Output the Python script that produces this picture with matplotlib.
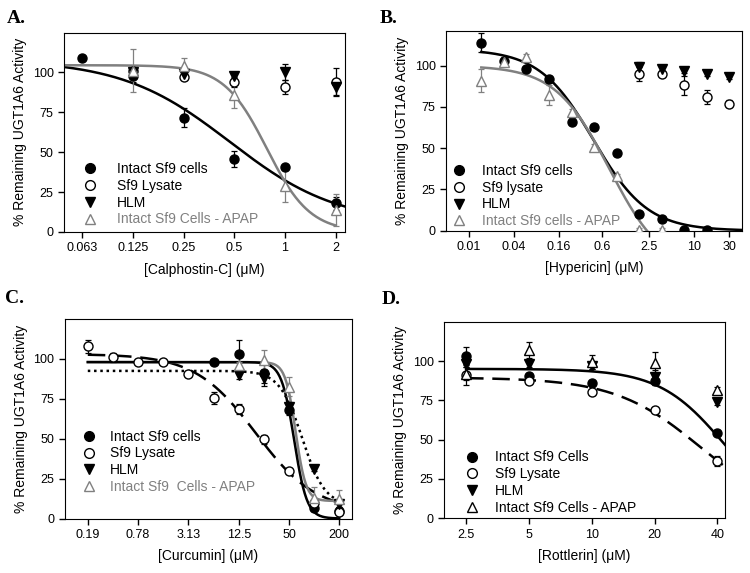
import numpy as np
import matplotlib.pyplot as plt
from matplotlib.lines import Line2D
from matplotlib.ticker import NullLocator

plt.rcParams['font.family'] = ['Liberation Sans', 'DejaVu Sans']
GRAY = '#808080'
nan = np.nan

# ---- A: Calphostin-C ----
conc_a = [0.0625, 0.125, 0.25, 0.5, 1, 2]
a_intact = [109, 98, 71.5, 45.5, 40.5, 18]
a_intact_err = [0, 4, 6, 5, 0, 4]
a_lysate = [nan, 101, 97, 94, 91, 94]
a_lysate_err = [0, 2, 2, 3, 4.5, 8.5]
a_hlm = [nan, 100, 99, 98, 100, 91]
a_hlm_err = [0, 2, 2, 1.5, 5, 5]
a_apap = [nan, 101, 104, 86, 29, 14]
a_apap_err = [0, 13.5, 5, 8, 10, 10]
# fitted curves: top, bottom, IC50, hill slope
a_fit_intact = [108, 5, 0.47, 1.35]
a_fit_apap = [104.5, 0, 0.78, 3.4]

# ---- B: Hypericin ----
conc_b = [0.0146, 0.0293, 0.0586, 0.117, 0.234, 0.469, 0.9375, 1.875, 3.75, 7.5, 15, 30]
b_intact = [114, 103, 98, 92, 66, 63, 47, 10, 7, 0.5, 0.5, nan]
b_intact_err = [6, 2, 2, 2, 2, 1.5, 1.5, 1.5, 1, 1, 1, 0]
b_lysate = [nan] * 7 + [95, 95, 88, 81, 77]
b_lysate_err = [0] * 7 + [4, 2, 6, 4, 2]
b_hlm = [nan] * 7 + [99, 98, 97, 95, 93]
b_hlm_err = [0] * 7 + [3, 1.5, 1.5, 1.5, 1]
b_apap = [91, 102, 105, 82, 72, 51, 33, 0.5, 0.5, nan, nan, nan]
b_apap_err = [7, 2, 2, 6, 2, 1.5, 1.5, 1, 1, 0, 0, 0]
b_fit_intact = [110, 0, 0.46, 1.2]
b_fit_apap = [100, -25, 0.75, 1.2]

# ---- C: Curcumin ----
conc_c = [0.195, 0.39, 0.78, 1.56, 3.125, 6.25, 12.5, 25, 50, 100, 200]
c_intact = [nan] * 5 + [98, 103, 91, 68, 6.5, 5]
c_intact_err = [0] * 5 + [1.5, 9, 6, 3, 1.5, 2]
c_lysate = [108, 101, 98, 98, 90.5, 75.5, 68.5, 49.5, 30, 10, 4]
c_lysate_err = [4, 3, 1.5, 1.5, 1.5, 4, 3, 3, 1.5, 1.5, 2]
c_hlm = [nan] * 6 + [89.7, 88, 70, 31, 9]
c_hlm_err = [0] * 6 + [2, 5, 3, 1.5, 2]
c_apap = [nan] * 6 + [96, 99.5, 82.5, 13, 12]
c_apap_err = [0] * 6 + [2, 6, 6, 7, 6]
c_fit_intact = [98, 0, 57.7, 5.7]
c_fit_apap = [98, 11, 60, 7]
c_fit_lysate = [103, 4, 20, 1.2]
c_fit_hlm = [92.5, 8, 72, 3.2]

# ---- D: Rottlerin ----
conc_d = [2.5, 5, 10, 20, 40]
d_intact = [103.5, 90.5, 86, 87.5, 54.5]
d_intact_err = [5.5, 2, 2, 3, 1.5]
d_lysate = [91, 87, 80, 69, 36.5]
d_lysate_err = [6.5, 1.5, 1.5, 1.5, 3]
d_hlm = [98, 98, 97, 90, 74]
d_hlm_err = [2, 2, 2, 4, 2]
d_apap = [92, 107, 99.5, 98.5, 81.5]
d_apap_err = [4, 5, 4.5, 7, 2]
d_fit_intact = [95, 0, 43, 2.8]
d_fit_lysate = [89.5, 0, 33.5, 2.1]


def hill(x, p):
    top, bottom, ic50, h = p
    return bottom + (top - bottom) / (1 + (x / ic50) ** h)


fig = plt.figure(figsize=(7.5, 5.73), dpi=100)


def px_axes(l, t, r, b):
    return fig.add_axes([l / 750, 1 - b / 573, (r - l) / 750, (b - t) / 573])


def points(ax, x, y, err, marker, face, edge):
    x = np.asarray(x, float)
    y = np.asarray(y, float)
    err = np.asarray(err, float)
    ok = ~np.isnan(y)
    ax.errorbar(x[ok], y[ok], yerr=err[ok], fmt=marker, ms=6.5, mfc=face, mec=edge,
                ecolor=edge, elinewidth=0.9, capsize=2.5, capthick=0.9, zorder=3)


def curve(ax, x0, x1, p, color='k', ls='-'):
    xs = np.logspace(np.log10(x0), np.log10(x1), 300)
    ax.plot(xs, hill(xs, p), color=color, ls=ls, lw=1.8, zorder=2)


def setup(ax, xlim, ylim, ticks, ticklabels, xlabel):
    ax.set_xscale('log')
    ax.set_xlim(*xlim)
    ax.set_ylim(*ylim)
    ax.xaxis.set_minor_locator(NullLocator())
    ax.set_xticks(ticks)
    ax.set_xticklabels(ticklabels)
    ax.set_yticks([0, 25, 50, 75, 100])
    ax.tick_params(direction='out', length=4, width=1, labelsize=9)
    ax.set_xlabel(xlabel, fontsize=10, labelpad=6)
    ax.set_ylabel('% Remaining UGT1A6 Activity', fontsize=10)


def legend(ax, labels, anchor, pad, apap_color=GRAY):
    styles = [('o', 'k', 'k'), ('o', 'white', 'k'), ('v', 'k', 'k'), ('^', 'white', apap_color)]
    handles = [Line2D([], [], ls='none', marker=m, ms=7, mfc=f, mec=e) for m, f, e in styles]
    leg = ax.legend(handles, labels, loc='lower left', bbox_to_anchor=anchor, frameon=False,
                    fontsize=10, handlelength=1, handletextpad=pad, labelspacing=0.2,
                    borderaxespad=0)
    leg.get_texts()[3].set_color(apap_color)


def draw_all(ax, x, data, apap_color=GRAY):
    points(ax, x, data[0][0], data[0][1], 'o', 'k', 'k')
    points(ax, x, data[1][0], data[1][1], 'o', 'white', 'k')
    points(ax, x, data[2][0], data[2][1], 'v', 'k', 'k')
    points(ax, x, data[3][0], data[3][1], '^', 'white', apap_color)


# A
ax = px_axes(64, 32.5, 345, 232)
setup(ax, (0.0487, 2.27), (0, 125), [0.0625, 0.125, 0.25, 0.5, 1, 2],
      ['0.063', '0.125', '0.25', '0.5', '1', '2'], '[Calphostin-C] (μM)')
curve(ax, 0.0487, 2.27, a_fit_intact)
curve(ax, 0.0487, 2.0, a_fit_apap, color=GRAY)
draw_all(ax, conc_a, [(a_intact, a_intact_err), (a_lysate, a_lysate_err),
                      (a_hlm, a_hlm_err), (a_apap, a_apap_err)])
legend(ax, ['Intact Sf9 cells', 'Sf9 Lysate', 'HLM', 'Intact Sf9 Cells - APAP'],
       (0.048, 0.0), 1.45)

# B
ax = px_axes(446, 31, 742, 230.7)
setup(ax, (0.00493, 44.3), (0, 121), [0.01, 0.04, 0.16, 0.6, 2.5, 10, 30],
      ['0.01', '0.04', '0.16', '0.6', '2.5', '10', '30'], '[Hypericin] (μM)')
curve(ax, 0.0146, 44.3, b_fit_intact)
curve(ax, 0.0146, 44.3, b_fit_apap, color=GRAY)
draw_all(ax, conc_b, [(b_intact, b_intact_err), (b_lysate, b_lysate_err),
                      (b_hlm, b_hlm_err), (b_apap, b_apap_err)])
legend(ax, ['Intact Sf9 cells', 'Sf9 lysate', 'HLM', 'Intact Sf9 cells - APAP'],
       (0.0, -0.015), 1.2)

# C
ax = px_axes(64.5, 319, 352, 518.5)
setup(ax, (0.1026, 284), (0, 125), [0.195, 0.78, 3.125, 12.5, 50, 200],
      ['0.19', '0.78', '3.13', '12.5', '50', '200'], '[Curcumin] (μM)')
curve(ax, 0.195, 200, c_fit_lysate, ls=(0, (7, 3.5)))
curve(ax, 0.195, 200, c_fit_hlm, ls=(0, (1, 1.5)))
curve(ax, 0.195, 200, c_fit_apap, color=GRAY)
curve(ax, 0.195, 200, c_fit_intact)
draw_all(ax, conc_c, [(c_intact, c_intact_err), (c_lysate, c_lysate_err),
                      (c_hlm, c_hlm_err), (c_apap, c_apap_err)])
legend(ax, ['Intact Sf9 cells', 'Sf9 Lysate', 'HLM', 'Intact Sf9  Cells - APAP'],
       (0.041, 0.095), 1.0)

# D
ax = px_axes(444, 321.7, 725, 518.3)
setup(ax, (1.96, 43.5), (0, 125), [2.5, 5, 10, 20, 40],
      ['2.5', '5', '10', '20', '40'], '[Rottlerin] (μM)')
curve(ax, 2.5, 43.5, d_fit_intact)
curve(ax, 2.5, 43.5, d_fit_lysate, ls=(0, (7, 3.5)))
draw_all(ax, conc_d, [(d_intact, d_intact_err), (d_lysate, d_lysate_err),
                      (d_hlm, d_hlm_err), (d_apap, d_apap_err)], apap_color='k')
legend(ax, ['Intact Sf9 Cells', 'Sf9 Lysate', 'HLM', 'Intact Sf9 Cells - APAP'],
       (0.054, -0.01), 1.17, apap_color='k')

for lab, x, y in [('A.', 7, 10), ('B.', 380, 10), ('C.', 5, 290), ('D.', 382, 291)]:
    fig.text(x / 750, 1 - y / 573, lab, fontfamily='Liberation Serif', fontweight='bold',
             fontsize=14, va='top')

fig.savefig('out.png', dpi=100)
